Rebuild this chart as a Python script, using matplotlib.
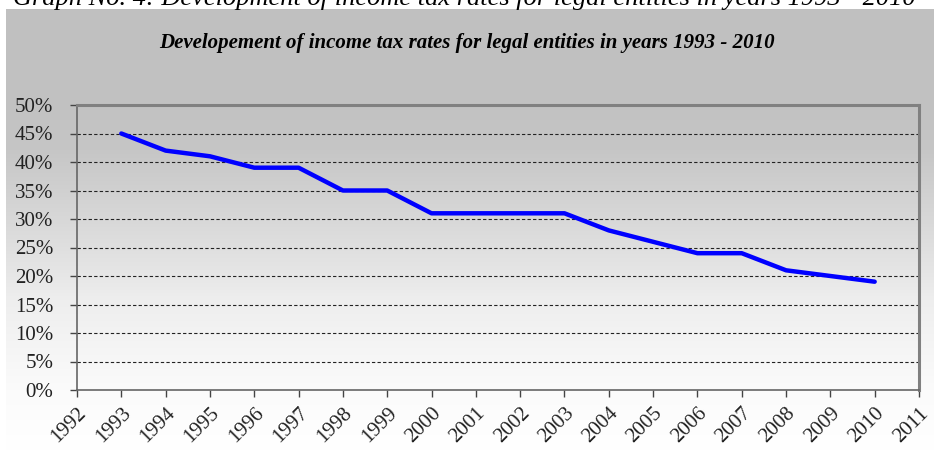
import numpy as np
import matplotlib
matplotlib.use("Agg")
import matplotlib.pyplot as plt
from matplotlib.ticker import FuncFormatter

years = [1993, 1994, 1995, 1996, 1997, 1998, 1999, 2000, 2001, 2002,
         2003, 2004, 2005, 2006, 2007, 2008, 2009, 2010]
rates = [45, 42, 41, 39, 39, 35, 35, 31, 31, 31,
         31, 28, 26, 24, 24, 21, 20, 19]
xticks = list(range(1992, 2012))
yticks = list(range(0, 55, 5))
title = "Developement of income tax rates for legal entities in years 1993 - 2010"
caption = "Graph No. 4: Development of income tax rates for legal entities in years 1993 - 2010"

W, H = 934, 451
fig = plt.figure(figsize=(W / 100, H / 100), dpi=100)
fig.patch.set_facecolor("white")

# background gradient panel
bg = fig.add_axes([6 / W, 0, 1 - 6 / W, 1 - 9 / H], zorder=0)
ys = np.linspace(9, 451, 400)
vals = np.interp(ys, [9, 110, 150, 270, 300, 390, 451],
                 [192, 194, 198, 229, 238, 251, 255]) / 255.0
img = np.repeat(vals[:, None], 2, axis=1)
bg.imshow(np.dstack([img, img, img]), aspect="auto", extent=[0, 1, 0, 1],
          interpolation="bilinear")
bg.set_axis_off()

fig.text(0.497, 1 + 2 / H, caption, ha="center", va="center",
         family="Liberation Serif", style="italic", fontsize=19, color="black")
fig.text(0.5, 1 - 43 / H, title, ha="center", va="center",
         family="Liberation Serif", style="italic", weight="bold", fontsize=15)

ax = fig.add_axes([77 / W, 1 - 390 / H, (919 - 77) / W, (390 - 105) / H], zorder=1)
ax.patch.set_alpha(0)
ax.plot(years, rates, color="#0000FF", lw=3.2, solid_joinstyle="round",
        solid_capstyle="round", zorder=3)
ax.set_xlim(1992, 2011)
ax.set_ylim(0, 50)
ax.set_xticks(xticks)
ax.set_yticks(yticks)
ax.yaxis.set_major_formatter(FuncFormatter(lambda v, p: f"{int(v)}%"))
for y in yticks[1:-1]:
    ax.axhline(y, color="#222222", lw=0.8, ls=(0, (3, 2)), zorder=2)

for s in ["top", "right"]:
    ax.spines[s].set_color("#808080")
    ax.spines[s].set_linewidth(2.2)
for s in ["left", "bottom"]:
    ax.spines[s].set_color("#666666")
    ax.spines[s].set_linewidth(1.2)
ax.tick_params(axis="both", direction="out", length=5, width=1, color="#444444",
               labelsize=15, labelcolor="#222222")
ax.tick_params(axis="y", pad=12)
ax.tick_params(axis="x", pad=5)
for lab in ax.get_xticklabels():
    lab.set_rotation(45)
    lab.set_ha("right")
    lab.set_va("top")
    lab.set_rotation_mode("anchor")
for lab in ax.get_xticklabels() + ax.get_yticklabels():
    lab.set_family("Liberation Serif")

fig.savefig("out.png", dpi=100)
